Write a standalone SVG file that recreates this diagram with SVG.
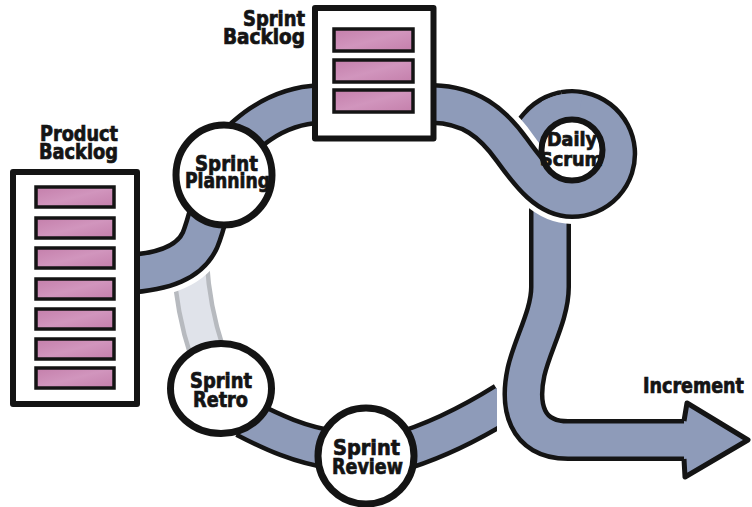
<svg xmlns="http://www.w3.org/2000/svg" xmlns:xlink="http://www.w3.org/1999/xlink" width="752" height="507" viewBox="0 0 752 507">
  <style>
    .halo{fill:none;stroke:#ffffff;stroke-width:52;stroke-linecap:butt;stroke-linejoin:round}
    .edge{fill:none;stroke:#141414;stroke-width:42;stroke-linecap:butt;stroke-linejoin:round}
    .band{fill:none;stroke:#8e9bb9;stroke-width:33;stroke-linecap:butt;stroke-linejoin:round}
    .fedge{fill:none;stroke:#b7babf;stroke-width:38;stroke-linecap:butt}
    .fband{fill:none;stroke:#e0e3ea;stroke-width:29;stroke-linecap:butt}
    .box{fill:#ffffff;stroke:#141414;stroke-width:6;stroke-linejoin:round}
    .bar{fill:url(#pg);stroke:#141414;stroke-width:3.5}
    .node{fill:#ffffff;stroke:#141414;stroke-width:7}
    .t{font-family:"Liberation Sans Narrow","DejaVu Sans Condensed","Liberation Sans",sans-serif;font-weight:bold;font-stretch:condensed;fill:#141414;stroke:#141414;stroke-width:0.7;font-size:21px}
    .s{font-size:19px}
  </style>
  <defs>
    <linearGradient id="pg" x1="0" y1="0" x2="1" y2="1">
      <stop offset="0" stop-color="#c47fab"/>
      <stop offset="0.5" stop-color="#d195bd"/>
      <stop offset="1" stop-color="#c47fab"/>
    </linearGradient>
    <clipPath id="cut"><rect x="0" y="0" width="497" height="507"/></clipPath>
    <path id="pF" d="M 190,262 C 192,295 197,322 207,352"/>
    <path id="pA" d="M 550,205 L 550,287 C 550,315 532,345 526,372 C 519,405 525,440 568,440 L 688,440"/>
    <path id="pR1" d="M 245,418 C 272,432 300,445 335,450"/>
    <path id="pR2" d="M 395,453 C 430,443 465,427 505,402"/>
    <path id="pB1" d="M 572,110 A 44 44 0 0 0 538.3,125.7 L 516,152"/>
    <path id="pB2" d="M 218,162 C 243,136 272,106 320,104 L 433,104 C 470,105 492,122 512,150 C 530,175 548,198 572,198 A 44 44 0 1 0 564.4,110.7"/>
    <path id="pPatch" d="M 579.6,110.7 A 44 44 0 0 0 550,115.9"/>
    <path id="pP" d="M 212,200 C 208,215 205,228 200,240 C 190,262 165,272 125,274"/>
  </defs>

  <g id="connectors">
    <use xlink:href="#pF" class="fedge"/>
    <use xlink:href="#pF" class="fband"/>
    <use xlink:href="#pA" class="edge"/>
    <use xlink:href="#pA" class="band"/>
    <use xlink:href="#pR1" class="edge"/>
    <use xlink:href="#pR1" class="band"/>
    <g clip-path="url(#cut)">
      <use xlink:href="#pR2" class="edge"/>
      <use xlink:href="#pR2" class="band"/>
    </g>
    <use xlink:href="#pB1" class="edge"/>
    <use xlink:href="#pB1" class="band"/>
    <use xlink:href="#pB2" class="halo"/>
    <use xlink:href="#pB2" class="edge"/>
    <use xlink:href="#pB2" class="band"/>
    <use xlink:href="#pPatch" class="band"/>
    <use xlink:href="#pP" class="halo"/>
    <use xlink:href="#pP" class="edge"/>
    <use xlink:href="#pP" class="band"/>
    <path id="arrowhead" d="M 684,421 L 687,403 L 748,440 L 685,477 L 684,459" fill="#8e9bb9" stroke="#141414" stroke-width="5" stroke-linejoin="round"/>
  </g>

  <g id="product-backlog">
    <rect class="box" x="13" y="172" width="124" height="232"/>
    <rect class="bar" x="36" y="187" width="78" height="20"/>
    <rect class="bar" x="36" y="218" width="78" height="20"/>
    <rect class="bar" x="36" y="248" width="78" height="20"/>
    <rect class="bar" x="36" y="279" width="78" height="20"/>
    <rect class="bar" x="36" y="309" width="78" height="20"/>
    <rect class="bar" x="36" y="339" width="78" height="20"/>
    <rect class="bar" x="36" y="368" width="78" height="20"/>
    <text class="t" x="40" y="141" textLength="78" lengthAdjust="spacingAndGlyphs">Product</text>
    <text class="t" x="39" y="159" textLength="79" lengthAdjust="spacingAndGlyphs">Backlog</text>
  </g>

  <g id="sprint-backlog">
    <rect class="box" x="315" y="8" width="118.5" height="130.5"/>
    <rect class="bar" x="334" y="29" width="79" height="22"/>
    <rect class="bar" x="334" y="60" width="79" height="22"/>
    <rect class="bar" x="334" y="90" width="79" height="22"/>
    <text class="t" x="243" y="26" textLength="62" lengthAdjust="spacingAndGlyphs">Sprint</text>
    <text class="t" x="223" y="44" textLength="82" lengthAdjust="spacingAndGlyphs">Backlog</text>
  </g>

  <g id="sprint-planning">
    <ellipse class="node" cx="224" cy="175" rx="48" ry="50"/>
    <text class="t" x="195" y="171" textLength="63" lengthAdjust="spacingAndGlyphs">Sprint</text>
    <text class="t" x="185" y="188" textLength="85" lengthAdjust="spacingAndGlyphs">Planning</text>
  </g>

  <g id="daily-scrum">
    <circle cx="572" cy="150" r="30.5" fill="#ffffff" stroke="#141414" stroke-width="6"/>
    <text class="t s" x="547" y="146" textLength="50" lengthAdjust="spacingAndGlyphs">Daily</text>
    <text class="t s" x="540" y="166" textLength="63" lengthAdjust="spacingAndGlyphs">Scrum</text>
  </g>

  <g id="sprint-retro">
    <ellipse class="node" cx="221" cy="388.5" rx="50.5" ry="45"/>
    <text class="t" x="190" y="388" textLength="62" lengthAdjust="spacingAndGlyphs">Sprint</text>
    <text class="t" x="193" y="407" textLength="55" lengthAdjust="spacingAndGlyphs">Retro</text>
  </g>

  <g id="sprint-review">
    <ellipse class="node" cx="366" cy="456" rx="48" ry="48"/>
    <text class="t" x="333" y="455" textLength="67" lengthAdjust="spacingAndGlyphs">Sprint</text>
    <text class="t" x="332" y="474" textLength="71" lengthAdjust="spacingAndGlyphs">Review</text>
  </g>

  <g id="increment">
    <text class="t" x="643" y="393" textLength="101" lengthAdjust="spacingAndGlyphs">Increment</text>
  </g>
</svg>
